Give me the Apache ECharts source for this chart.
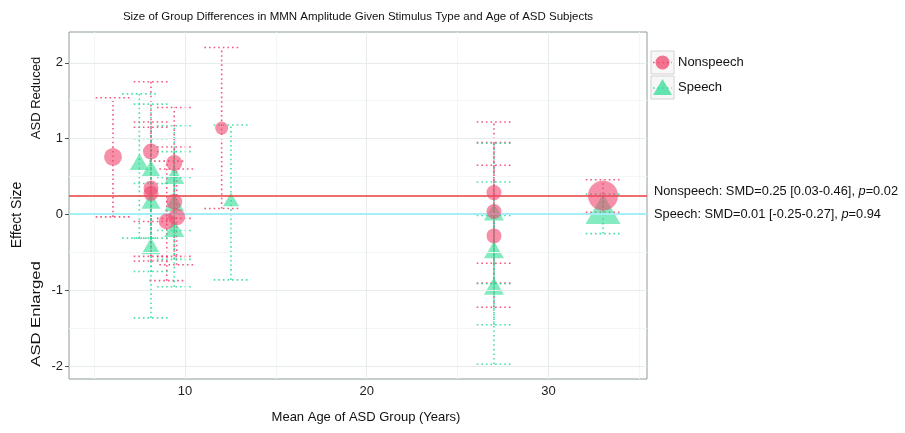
<!DOCTYPE html>
<html><head><meta charset="utf-8">
<script src="https://cdn.jsdelivr.net/npm/echarts@6/dist/echarts.min.js"></script>
<style>html,body{margin:0;padding:0;background:#fff}#c{width:905px;height:433px}</style>
</head><body><div id="c"></div>
<script>
// ---------- data ----------
const xTicks = [10, 20, 30];
const xMinor = [5, 15, 25, 35];
const yTicks = [-2, -1, 0, 1, 2];
const yMinor = [-1.5, -0.5, 0.5, 1.5];

const nsAge    = [6.04, 8.13, 8.13, 8.13, 9.41, 9.41, 9.54, 9.0, 12.02, 27, 27, 27, 33];
const nsSMD    = [0.76, 0.83, 0.35, 0.28, 0.68, 0.17, -0.03, -0.09, 1.14, 0.29, 0.04, -0.28, 0.25];
const nsLow    = [-0.03, -0.09, -0.55, -0.61, -0.05, -0.55, -0.66, -0.87, 0.08, -0.64, -0.90, -1.22, 0.03];
const nsHigh   = [1.54, 1.75, 1.22, 1.15, 1.41, 0.89, 0.60, 0.705, 2.20, 1.22, 0.95, 0.65, 0.46];
const nsWeight = [20, 16, 14, 14, 16, 16, 18, 16, 10.5, 14, 14, 14, 56];

const spAge    = [7.49, 8.13, 8.13, 8.13, 9.41, 9.41, 9.41, 12.53, 27, 27, 27, 33];
const spSMD    = [0.66, 0.57, 0.15, -0.45, 0.48, 0.12, -0.22, 0.17, 0.0, -0.50, -0.98, 0.01];
const spLow    = [-0.31, -0.31, -0.75, -1.36, -0.21, -0.59, -0.95, -0.86, -0.91, -1.45, -1.97, -0.25];
const spHigh   = [1.59, 1.455, 1.00, 0.41, 1.17, 0.83, 0.49, 1.18, 0.94, 0.43, -0.01, 0.27];
const spWeight = [12.4, 12.4, 12.4, 12.4, 13.7, 13.7, 13.7, 8.8, 13.7, 13.7, 13.7, 42];

const pooledNS = {smd: 0.25, lo: 0.03, hi: 0.46, p: 0.02};
const pooledSP = {smd: 0.01, lo: -0.25, hi: 0.27, p: 0.94};

// ---------- style ----------
const FONT = 'Liberation Sans, Arial, Helvetica, sans-serif';
const PINK = 'rgba(240,70,110,0.75)';
const PINK_ERR = 'rgba(238,60,105,0.85)';
const GREEN = 'rgba(50,220,150,0.75)';
const GREEN_ERR = 'rgba(40,218,150,0.85)';
const CAP_HALF = 0.95;

const chart = echarts.init(document.getElementById('c'), null, {renderer: 'canvas'});

function errRender(color) {
  return function (params, api) {
    const x = api.value(0), lo = api.value(1), hi = api.value(2);
    const pLo = api.coord([x, lo]), pHi = api.coord([x, hi]);
    const hw = api.size([CAP_HALF, 0])[0];
    const style = {stroke: color, lineWidth: 1.6, lineDash: [1.6, 3], fill: null};
    return {type: 'group', children: [
      {type: 'line', shape: {x1: pLo[0], y1: pLo[1], x2: pHi[0], y2: pHi[1]}, style: style},
      {type: 'line', shape: {x1: pLo[0] - hw, y1: pLo[1], x2: pLo[0] + hw, y2: pLo[1]}, style: style},
      {type: 'line', shape: {x1: pHi[0] - hw, y1: pHi[1], x2: pHi[0] + hw, y2: pHi[1]}, style: style}
    ]};
  };
}

const nsErr = nsAge.map((a, i) => [a, nsLow[i], nsHigh[i]]);
const spErr = spAge.map((a, i) => [a, spLow[i], spHigh[i]]);
const nsPts = nsAge.map((a, i) => ({value: [a, nsSMD[i]], symbolSize: 4 * Math.sqrt(nsWeight[i])}));
const spPts = spAge.map((a, i) => {
  const w = 5.4 * Math.sqrt(spWeight[i]);
  const h = w * 0.866;
  return {value: [a, spSMD[i]], symbolSize: [w, h], symbolOffset: [0, -h / 6]};
});

const gridLines = [];
xMinor.forEach(v => gridLines.push({xAxis: v, lineStyle: {color: '#F3F6F6', width: 1, type: 'solid'}}));
yMinor.forEach(v => gridLines.push({yAxis: v, lineStyle: {color: '#F3F6F6', width: 1, type: 'solid'}}));
xTicks.forEach(v => gridLines.push({xAxis: v, lineStyle: {color: '#E6ECEC', width: 1, type: 'solid'}}));
yTicks.forEach(v => gridLines.push({yAxis: v, lineStyle: {color: '#E6ECEC', width: 1, type: 'solid'}}));

function annot(name, o) {
  return name + ': SMD=' + o.smd.toFixed(2) + ' [' + o.lo.toFixed(2) + '-' + o.hi.toFixed(2) + '], {i|p}=' + o.p.toFixed(2);
}

const option = {
  animation: false,
  backgroundColor: '#fff',
  grid: {left: 69, right: 258, top: 32, bottom: 54, show: true, borderColor: '#8E9C9C', borderWidth: 1, backgroundColor: 'transparent'},
  xAxis: {
    type: 'value', min: 3.62, max: 35.42,
    axisLine: {show: false},
    splitLine: {show: false},
    axisTick: {show: true, customValues: xTicks, length: 4, lineStyle: {color: '#555'}},
    axisLabel: {customValues: xTicks, color: '#222', fontFamily: FONT, fontSize: 13, margin: 6}
  },
  yAxis: {
    type: 'value', min: -2.165, max: 2.405,
    axisLine: {show: false},
    splitLine: {show: false},
    axisTick: {show: true, customValues: yTicks, length: 4, lineStyle: {color: '#555'}},
    axisLabel: {customValues: yTicks, color: '#222', fontFamily: FONT, fontSize: 13, margin: 6}
  },
  series: [
    {type: 'scatter', data: [], silent: true, z: 0,
     markLine: {silent: true, symbol: 'none', label: {show: false}, data: gridLines, animation: false}},
    {type: 'custom', renderItem: errRender(PINK_ERR), data: nsErr, encode: {x: 0, y: [1, 2]}, z: 2, silent: true},
    {type: 'custom', renderItem: errRender(GREEN_ERR), data: spErr, encode: {x: 0, y: [1, 2]}, z: 2, silent: true},
    {type: 'scatter', data: [], silent: true, z: 3,
     markLine: {silent: true, symbol: 'none', label: {show: false}, animation: false,
       data: [
         {yAxis: pooledSP.smd, lineStyle: {color: '#A6EEF5', width: 2, type: 'solid'}},
         {yAxis: pooledNS.smd, lineStyle: {color: '#E8413E', width: 1.5, type: 'solid'}}
       ]}},
    {name: 'Speech', type: 'scatter', symbol: 'triangle', data: spPts, itemStyle: {color: GREEN}, z: 4, silent: true},
    {name: 'Nonspeech', type: 'scatter', symbol: 'circle', data: nsPts, itemStyle: {color: PINK}, z: 5, silent: true}
  ],
  graphic: [
    {type: 'text', x: 358, y: 17, style: {text: 'Size of Group Differences in MMN Amplitude Given Stimulus Type and Age of ASD Subjects', font: '11.5px ' + FONT, fill: '#111', textAlign: 'center', textVerticalAlign: 'middle'}},
    {type: 'text', x: 366, y: 417, style: {text: 'Mean Age of ASD Group (Years)', font: '13px ' + FONT, fill: '#111', textAlign: 'center', textVerticalAlign: 'middle'}},
    {type: 'text', x: 17, y: 215, rotation: Math.PI / 2, style: {text: 'Effect Size', font: '14px ' + FONT, fill: '#111', textAlign: 'center', textVerticalAlign: 'middle'}},
    {type: 'text', x: 36, y: 98, rotation: Math.PI / 2, style: {text: 'ASD Reduced', font: '13px ' + FONT, fill: '#111', textAlign: 'center', textVerticalAlign: 'middle'}},
    {type: 'text', x: 36, y: 314, rotation: Math.PI / 2, scaleX: 1.28, style: {text: 'ASD Enlarged', font: '13px ' + FONT, fill: '#111', textAlign: 'center', textVerticalAlign: 'middle'}},
    {type: 'text', x: 654, y: 191, style: {text: annot('Nonspeech', pooledNS), font: '12.8px ' + FONT, fill: '#111', textVerticalAlign: 'middle', rich: {i: {fontStyle: 'italic', fontSize: 12.8, fontFamily: FONT, fill: '#111'}}}},
    {type: 'text', x: 654, y: 214, style: {text: annot('Speech', pooledSP), font: '12.8px ' + FONT, fill: '#111', textVerticalAlign: 'middle', rich: {i: {fontStyle: 'italic', fontSize: 12.8, fontFamily: FONT, fill: '#111'}}}},
    // legend
    {type: 'rect', shape: {x: 651, y: 51, width: 23, height: 23}, style: {fill: '#F7F7F7', stroke: '#D2D2D2', lineWidth: 1}},
    {type: 'rect', shape: {x: 651, y: 76, width: 23, height: 23}, style: {fill: '#F7F7F7', stroke: '#D2D2D2', lineWidth: 1}},
    {type: 'line', shape: {x1: 653, y1: 62.5, x2: 672, y2: 62.5}, style: {stroke: PINK_ERR, lineWidth: 1.6, lineDash: [1.6, 3]}},
    {type: 'circle', shape: {cx: 662.5, cy: 62.5, r: 7}, style: {fill: PINK}},
    {type: 'line', shape: {x1: 653, y1: 88, x2: 672, y2: 88}, style: {stroke: GREEN_ERR, lineWidth: 1.6, lineDash: [1.6, 3]}},
    {type: 'polygon', shape: {points: [[662.5, 79], [672, 95], [653, 95]]}, style: {fill: GREEN}},
    {type: 'text', x: 678, y: 62, style: {text: 'Nonspeech', font: '13px ' + FONT, fill: '#111', textVerticalAlign: 'middle'}},
    {type: 'text', x: 678, y: 87, style: {text: 'Speech', font: '13px ' + FONT, fill: '#111', textVerticalAlign: 'middle'}}
  ]
};
chart.setOption(option);
</script></body></html>
